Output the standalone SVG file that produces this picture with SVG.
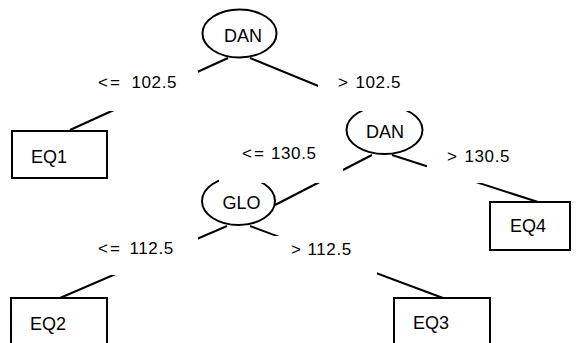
<svg xmlns="http://www.w3.org/2000/svg" width="577" height="343" viewBox="0 0 577 343">
<style>
.edge{stroke:#000;stroke-width:2;fill:none}
.shape{stroke:#000;stroke-width:2;fill:#fff}
.nt{font-family:"Liberation Sans",Arial,sans-serif;font-size:18px;fill:#000}
.lt{font-family:"Liberation Sans",Arial,sans-serif;font-size:17px;fill:#000}
.num{letter-spacing:0.6px}
.op{letter-spacing:2px}
.bg{fill:#fff;stroke:none}
</style>
<rect width="577" height="343" fill="#fff"/>
<g id="connectors">
<line class="edge" x1="228" y1="58" x2="70" y2="130"/>
<line class="edge" x1="250" y1="58" x2="372" y2="108"/>
<line class="edge" x1="372" y1="155" x2="275" y2="205"/>
<line class="edge" x1="392" y1="155" x2="538" y2="202"/>
<line class="edge" x1="227" y1="226" x2="60" y2="298"/>
<line class="edge" x1="250" y1="226" x2="443" y2="298"/>
</g>
<g id="node-DAN-root">
<ellipse class="shape" cx="239.5" cy="33.5" rx="37" ry="24"/>
<text class="nt" x="243" y="42" text-anchor="middle">DAN</text>
</g>
<g id="node-EQ1">
<rect class="shape" x="12" y="131" width="95" height="47"/>
<text class="nt" x="31" y="163">EQ1</text>
</g>
<g id="node-DAN-2">
<ellipse class="shape" cx="384.5" cy="130" rx="38" ry="24"/>
<text class="nt" x="385" y="138" text-anchor="middle">DAN</text>
</g>
<g id="node-GLO">
<ellipse class="shape" cx="238.5" cy="201" rx="36.5" ry="24"/>
<text class="nt" x="241.5" y="209" text-anchor="middle">GLO</text>
</g>
<g id="node-EQ4">
<rect class="shape" x="490" y="202" width="80" height="48"/>
<text class="nt" x="510" y="232">EQ4</text>
</g>
<g id="node-EQ2">
<rect class="shape" x="11" y="298" width="96" height="50"/>
<text class="nt" x="30" y="330">EQ2</text>
</g>
<g id="node-EQ3">
<rect class="shape" x="394" y="298" width="96" height="50"/>
<text class="nt" x="413" y="329">EQ3</text>
</g>
<g id="edge-labels">
<rect class="bg" x="76" y="71" width="122" height="40"/>
<rect class="bg" x="318" y="70" width="104" height="41"/>
<rect class="bg" x="219" y="142" width="124" height="41"/>
<rect class="bg" x="427" y="142" width="104" height="41"/>
<rect class="bg" x="77" y="236" width="121" height="39"/>
<rect class="bg" x="269" y="236" width="108" height="39"/>
<text class="lt" y="88"><tspan class="op" x="98">&lt;=</tspan><tspan class="num" x="131.5">102.5</tspan></text>
<text class="lt" y="88"><tspan x="338">&gt;</tspan><tspan class="num" x="355.5">102.5</tspan></text>
<text class="lt" y="159"><tspan class="op" x="242">&lt;=</tspan><tspan class="num" x="271">130.5</tspan></text>
<text class="lt" y="162"><tspan x="447">&gt;</tspan><tspan class="num" x="464.5">130.5</tspan></text>
<text class="lt" y="254"><tspan class="op" x="98">&lt;=</tspan><tspan class="num" x="129.5">112.5</tspan></text>
<text class="lt" y="255"><tspan x="291">&gt;</tspan><tspan class="num" x="307.5">112.5</tspan></text>
</g>
</svg>
